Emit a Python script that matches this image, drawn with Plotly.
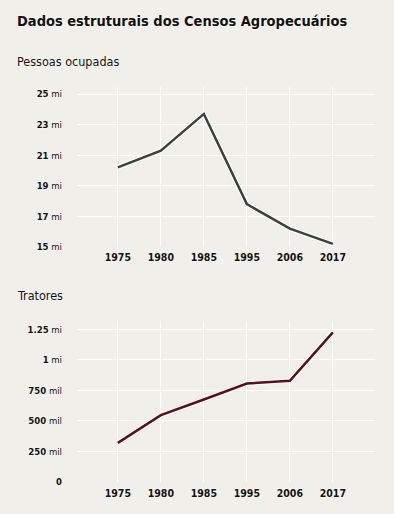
import plotly.graph_objects as go

years = ["1975", "1980", "1985", "1995", "2006", "2017"]
pessoas_mi = [20.2, 21.3, 23.7, 17.8, 16.2, 15.2]
tratores = [320000, 547000, 675000, 806000, 828000, 1225000]

y1_ticks = [15, 17, 19, 21, 23, 25]
y1_text = ["<b>15</b> mi", "<b>17</b> mi", "<b>19</b> mi", "<b>21</b> mi", "<b>23</b> mi", "<b>25</b> mi"]
y2_ticks = [0, 250000, 500000, 750000, 1000000, 1250000]
y2_text = ["<b>0</b>", "<b>250</b> mil", "<b>500</b> mil", "<b>750</b> mil", "<b>1</b> mi", "<b>1.25</b> mi"]

FONT = "DejaVu Sans Condensed, DejaVu Sans, sans-serif"
BG = "#f1efea"
SHADOW = "0px 0px 2px #ffffff"
xi = list(range(len(years)))


def F(size, **kw):
    return dict(size=size, color="#111111", family=FONT, shadow=SHADOW, **kw)


fig = go.Figure()
fig.add_trace(go.Scatter(x=xi, y=pessoas_mi, mode="lines", line=dict(color="#ffffff", width=4.5),
                         xaxis="x", yaxis="y", hoverinfo="skip", showlegend=False))
fig.add_trace(go.Scatter(x=xi, y=pessoas_mi, mode="lines", line=dict(color="#3b423d", width=2.5),
                         xaxis="x", yaxis="y", showlegend=False))
fig.add_trace(go.Scatter(x=xi, y=tratores, mode="lines", line=dict(color="#ffffff", width=4.5),
                         xaxis="x2", yaxis="y2", hoverinfo="skip", showlegend=False))
fig.add_trace(go.Scatter(x=xi, y=tratores, mode="lines", line=dict(color="#5a1014", width=2.5),
                         xaxis="x2", yaxis="y2", showlegend=False))

xcommon = dict(tickmode="array", tickvals=xi, ticktext=["<b>%s</b>" % y for y in years],
               range=[-0.95, 5.98], showgrid=True, gridcolor="#ffffff", gridwidth=1,
               zeroline=False, showline=False, ticks="", ticklabelstandoff=3, automargin=False,
               tickfont=F(10.5))
ycommon = dict(showgrid=True, gridcolor="#ffffff", gridwidth=1.3, zeroline=False,
               showline=False, ticks="", ticklabelstandoff=14, automargin=False,
               tickfont=F(9.5))

LX = (15 - 77) / 298

fig.update_layout(
    width=394, height=514,
    paper_bgcolor=BG, plot_bgcolor=BG,
    margin=dict(l=77, r=19, t=87, b=32),
    font=dict(family=FONT, color="#111111"),
    xaxis=dict(domain=[0, 1], anchor="y", **xcommon),
    yaxis=dict(domain=[0.595, 1], anchor="x", range=[15, 25.46],
               tickmode="array", tickvals=y1_ticks, ticktext=y1_text, **ycommon),
    xaxis2=dict(domain=[0, 1], anchor="y2", **xcommon),
    yaxis2=dict(domain=[0, 0.4076], anchor="x2", range=[0, 1318000],
                tickmode="array", tickvals=y2_ticks, ticktext=y2_text, **ycommon),
    annotations=[
        dict(text="<b>Dados estruturais dos Censos Agropecuários</b>", xref="paper", yref="paper",
             x=LX, y=1 + (87 - 21) / 395, xanchor="left", yanchor="middle", showarrow=False,
             font=F(14.5)),
        dict(text="Pessoas ocupadas", xref="paper", yref="paper",
             x=LX, y=1 + (87 - 61) / 395, xanchor="left", yanchor="middle", showarrow=False,
             font=F(12.5)),
        dict(text="Tratores", xref="paper", yref="paper",
             x=LX, y=(514 - 32 - 295) / 395, xanchor="left", yanchor="middle", showarrow=False,
             font=F(12.5)),
    ],
)

fig.write_html(
    "out.html",
    config={"displayModeBar": False},
    post_script="document.body.style.margin='0';document.body.style.background='%s';" % BG,
)
